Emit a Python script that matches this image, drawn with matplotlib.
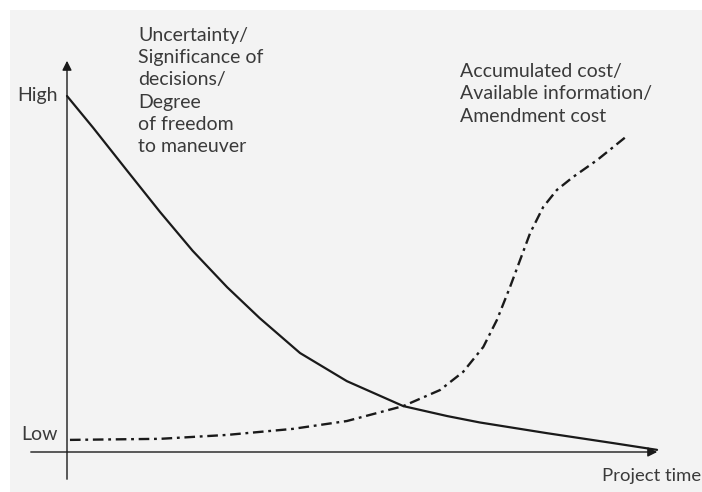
import matplotlib

matplotlib.use("Agg")

import matplotlib.pyplot as plt
from matplotlib.patches import Rectangle

# project time (0..10) and level (0 = low, 10 = high)
solid_time = [0.0, 0.44, 1.01, 1.57, 2.12, 2.70, 3.25, 3.93, 4.72, 5.67,
              6.41, 6.96, 8.09, 9.21, 9.95]
solid_level = [10.0, 9.11, 7.91, 6.74, 5.65, 4.63, 3.76, 2.78, 1.99, 1.29,
               1.01, 0.83, 0.53, 0.25, 0.06]

dash_time = [0.05, 1.57, 2.70, 3.81, 4.72, 5.67, 6.29, 6.68, 7.02, 7.25,
             7.47, 7.64, 7.81, 8.03, 8.26, 8.53, 8.94, 9.46]
dash_level = [0.34, 0.37, 0.48, 0.65, 0.87, 1.29, 1.74, 2.25, 2.95, 3.71,
              4.63, 5.39, 6.15, 6.88, 7.36, 7.72, 8.20, 8.90]

label_left = "Uncertainty/\nSignificance of\ndecisions/\nDegree\nof freedom\nto maneuver"
label_right = "Accumulated cost/\nAvailable information/\nAmendment cost"

W, H = 702, 492
X0, Y0 = 67, 452          # pixel position of the origin
SX, SY = 59.3, 35.6       # pixels per data unit

fig = plt.figure(figsize=(W / 100, H / 100), dpi=100, facecolor="white")
ax = fig.add_axes([0, 0, 1, 1])
ax.set_facecolor("none")
ax.set_xlim(-X0 / SX, (W - X0) / SX)
ax.set_ylim(-(H - Y0) / SY, Y0 / SY)
ax.axis("off")
ax.add_patch(Rectangle((10 / W, 0), 1, 1 - 10 / H, transform=ax.transAxes,
                       facecolor="#f3f3f3", edgecolor="none", zorder=0))

font = dict(family="Lato", color="#3a3a3a")
ink = "#1a1a1a"

# axes with arrow heads
ax.annotate("", xy=(0, (Y0 - 58) / SY), xytext=(0, -(482 - Y0) / SY),
            arrowprops=dict(arrowstyle="-|>", color=ink, lw=1.0, mutation_scale=14))
ax.annotate("", xy=((660 - X0) / SX, 0), xytext=((28 - X0) / SX, 0),
            arrowprops=dict(arrowstyle="-|>", color=ink, lw=1.0, mutation_scale=14))

ax.plot(solid_time, solid_level, color=ink, lw=1.6, solid_capstyle="round",
        solid_joinstyle="round")
ax.plot(dash_time, dash_level, color=ink, lw=1.7, dashes=(4.5, 2.0, 1.2, 2.0),
        dash_joinstyle="round")

ax.text(-(X0 - 58) / SX, 10.0, "High", ha="right", va="center", fontsize=14, **font)
ax.text(-(X0 - 58) / SX, (Y0 - 434) / SY, "Low", ha="right", va="center", fontsize=14, **font)
ax.text((602 - X0) / SX, -(476 - Y0) / SY, "Project time", ha="left", va="center",
        fontsize=13.3, **font)

ax.text((138 - X0) / SX, (Y0 - 27) / SY, label_left, ha="left", va="top",
        fontsize=14, linespacing=1.37, **font)
ax.text((460 - X0) / SX, (Y0 - 63) / SY, label_right, ha="left", va="top",
        fontsize=14, linespacing=1.39, **font)

fig.savefig("out.png", dpi=100, facecolor=fig.get_facecolor())
